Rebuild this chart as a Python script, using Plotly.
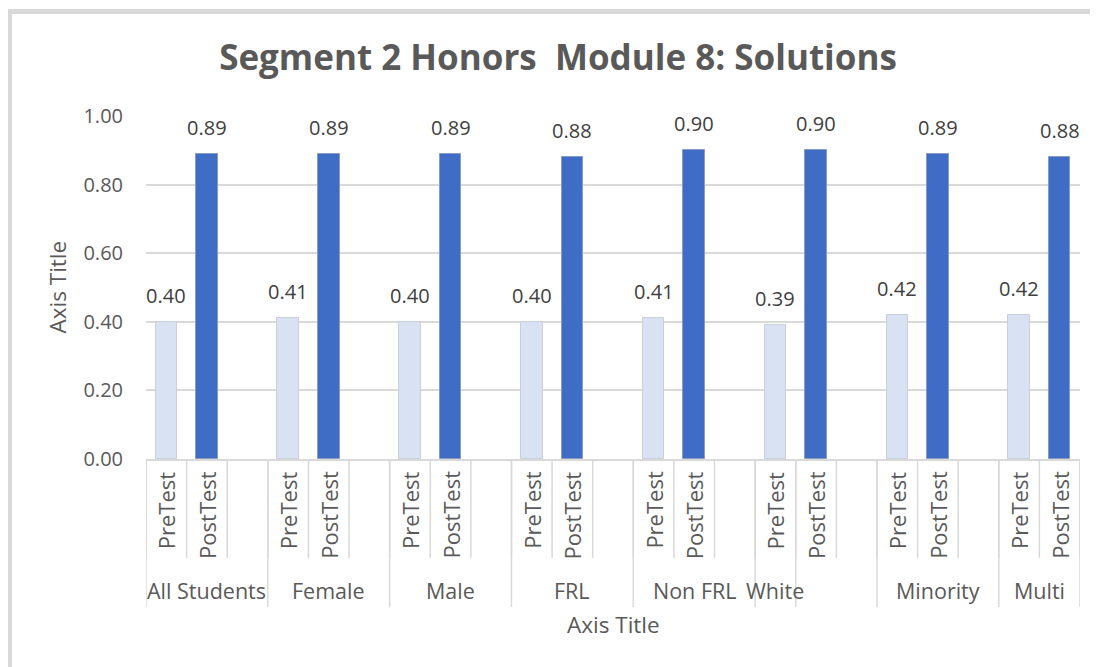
import plotly.graph_objects as go

# ---------------- data ----------------
groups = ["All Students", "Female", "Male", "FRL", "Non FRL", "White", "Minority", "Multi"]
series = ["PreTest", "PostTest"]
pretest = [0.40, 0.41, 0.40, 0.40, 0.41, 0.39, 0.42, 0.42]
posttest = [0.89, 0.89, 0.89, 0.88, 0.90, 0.90, 0.89, 0.88]
y_ticks = [0.0, 0.2, 0.4, 0.6, 0.8, 1.0]
title_text = "Segment 2 Honors  Module 8: Solutions"
axis_title = "Axis Title"

# Excel category layout: each group occupies 3 slots (PreTest, PostTest, blank),
# except the last which has only 2. The 'White' label spans only its first slot.
n_groups = len(groups)
slots_per_group = [3] * (n_groups - 1) + [2]
starts = [sum(slots_per_group[:i]) for i in range(n_groups)]
n_slots = sum(slots_per_group)
pre_x = [s for s in starts]
post_x = [s + 1 for s in starts]

label_spans = []
for i, g in enumerate(groups):
    if g == "White":
        label_spans.append((starts[i], 1, g))
        label_spans.append((starts[i] + 1, slots_per_group[i] - 1, ""))
    else:
        label_spans.append((starts[i], slots_per_group[i], g))

TXT = "#595959"
GRID = "#D9D9D9"
FONT = "Open Sans"

fig = go.Figure()
fig.add_trace(go.Bar(
    x=pre_x, y=pretest, name=series[0], width=0.53,
    marker=dict(color="#D9E2F3", line=dict(color="#C9CED8", width=1)),
    hoverinfo="y",
))
fig.add_trace(go.Bar(
    x=post_x, y=posttest, name=series[1], width=0.53,
    marker=dict(color="#3F6CC4", line=dict(color="#8A9BBF", width=1)),
    hoverinfo="y",
))

annotations = []
for xs, ys in ((pre_x, pretest), (post_x, posttest)):
    for x, v in zip(xs, ys):
        annotations.append(dict(
            x=x, y=v, xref="x", yref="y", text=f"{v:.2f}", showarrow=False,
            yanchor="bottom", yshift=11, font=dict(family=FONT, size=20, color="#404040"),
        ))

shapes = []
for i in range(n_groups):
    for k in range(2):
        annotations.append(dict(
            x=starts[i] + k, y=0, xref="x", yref="paper", text=series[k],
            showarrow=False, textangle=-90, yanchor="top", yshift=-10,
            font=dict(family=FONT, size=22, color=TXT),
        ))
for s in range(n_slots + 1):
    shapes.append(dict(
        type="line", xref="x", yref="paper", x0=s - 0.5, x1=s - 0.5,
        ysizemode="pixel", yanchor=0, y0=0, y1=-99,
        line=dict(color=GRID, width=1.5),
    ))
edges = set()
for st, n, lab in label_spans:
    edges.add(st)
    edges.add(st + n)
    if lab:
        annotations.append(dict(
            x=st + (n - 1) / 2, y=0, xref="x", yref="paper", text=lab,
            showarrow=False, yanchor="middle", yshift=-131,
            font=dict(family=FONT, size=21.5, color=TXT),
        ))
for e in sorted(edges):
    shapes.append(dict(
        type="line", xref="x", yref="paper", x0=e - 0.5, x1=e - 0.5,
        ysizemode="pixel", yanchor=0, y0=0, y1=-148,
        line=dict(color=GRID, width=1.5),
    ))

annotations.append(dict(
    x=0.5, y=0, xref="paper", yref="paper", text=axis_title, showarrow=False,
    yanchor="middle", yshift=-165, font=dict(family=FONT, size=22.5, color=TXT),
))
annotations.append(dict(
    x=0, y=0.5, xref="paper", yref="paper", text=axis_title, showarrow=False,
    textangle=-90, xanchor="center", xshift=-89,
    font=dict(family=FONT, size=22.5, color=TXT),
))

# page body has an 8px margin: figure drawn at (8, 8)
OFF = 8
W, H = 1098 - OFF, 667 - OFF
L, R, T, B = 146 - OFF, 18, 116 - OFF, 208
pw, ph = W - L - R, H - T - B
def px(xp):
    return (xp - OFF - L) / pw
def py(yp):
    return (H - B - (yp - OFF)) / ph
shapes.append(dict(
    type="rect", xref="paper", yref="paper",
    x0=px(9.5), x1=px(1120), y0=py(11.5), y1=py(700),
    line=dict(color="#D9D9D9", width=5), fillcolor="rgba(0,0,0,0)", layer="below",
))

fig.update_layout(
    width=W, height=H,
    margin=dict(l=L, r=R, t=T, b=B),
    paper_bgcolor="white", plot_bgcolor="white",
    showlegend=False,
    bargap=0, barmode="overlay",
    title=dict(
        text=f"<b>{title_text}</b>", x=(558 - OFF) / W, xanchor="center", xref="container",
        y=1 - (58 - OFF) / H, yanchor="middle", yref="container",
        font=dict(family=FONT, size=35, color=TXT),
    ),
    font=dict(family=FONT, color=TXT),
    annotations=annotations,
    shapes=shapes,
)
fig.update_xaxes(
    range=[-0.5, n_slots - 0.5], showticklabels=False, showgrid=False,
    zeroline=False, showline=True, linecolor=GRID, linewidth=1.5, ticks="",
)
fig.update_yaxes(
    range=[0, 1.0], tickvals=y_ticks, ticktext=[f"{v:.2f}" for v in y_ticks],
    showgrid=True, gridcolor=GRID, gridwidth=1.5, zeroline=False,
    showline=False, ticks="", ticklabelstandoff=22,
    tickfont=dict(family=FONT, size=20, color=TXT),
)

fig.write_html("out.html")
